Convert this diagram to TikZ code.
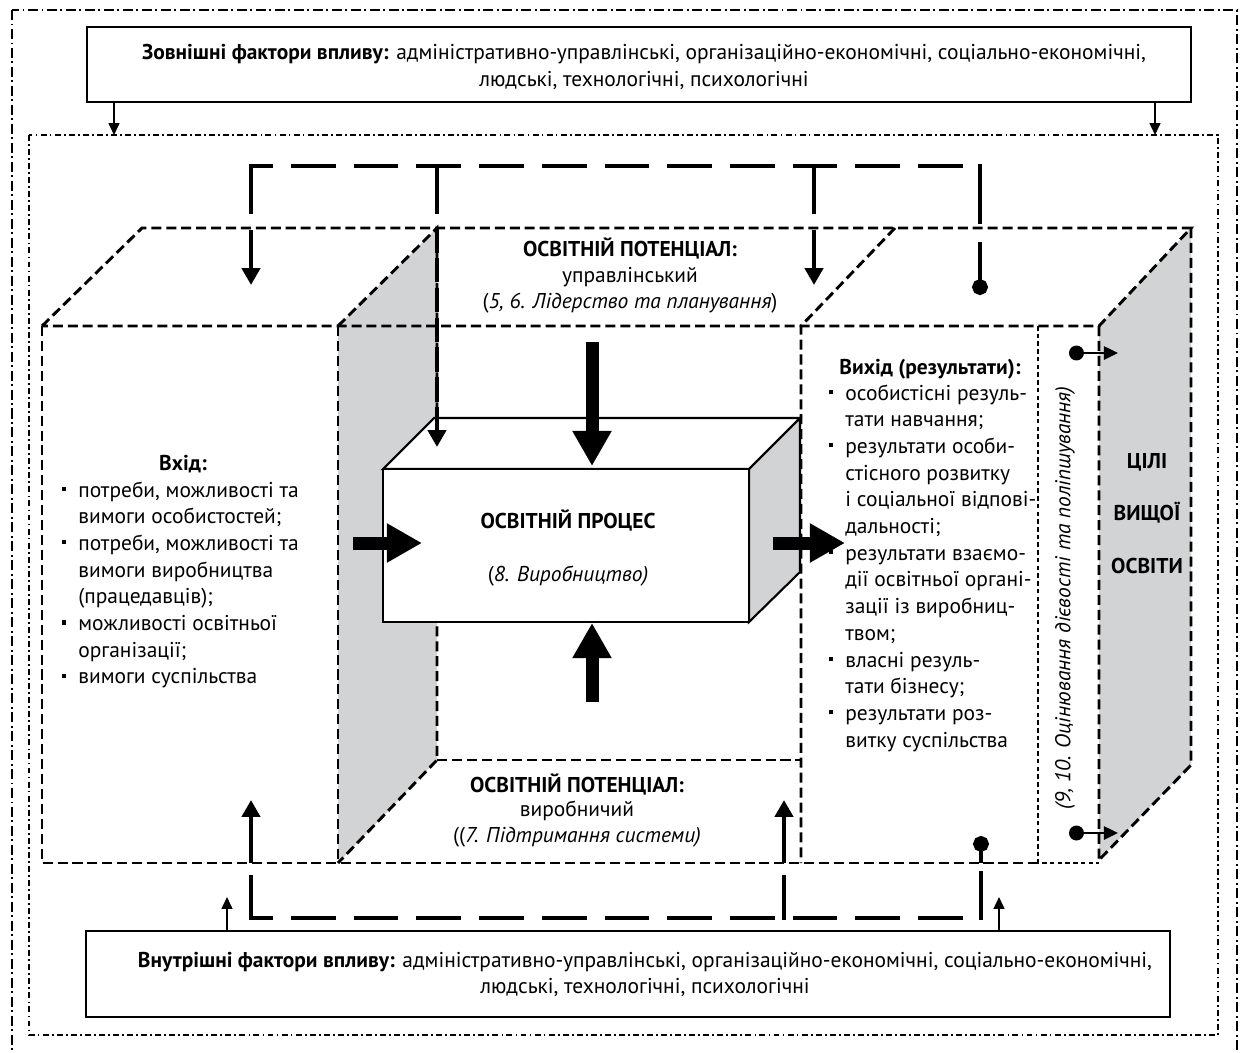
\documentclass[tikz,border=0pt]{standalone}
\usepackage{fontspec}
\setmainfont{PT Sans}
\usetikzlibrary{arrows.meta}
\definecolor{sidegray}{RGB}{209,211,212}
\newcommand{\sqbul}{\rule[3.4pt]{2.3pt}{2.3pt}\hspace{7pt}}
\tikzset{
  outerframe/.style={line width=1.4pt, dash pattern=on 5.7pt off 2pt on 1.1pt off 2pt},
  innerframe/.style={line width=1.2pt, dash pattern=on 3.4pt off 1.8pt on 1pt off 1.8pt},
  cubeline/.style={line width=1.65pt, dash pattern=on 5.7pt off 2.8pt},
  dotline/.style={line width=1.4pt, dash pattern=on 2.6pt off 1.8pt},
  fbdash/.style={line width=2.8pt, dash pattern=on 25.5pt off 10.2pt, dash phase=13pt},
  fbsolid/.style={line width=2.8pt, line cap=rect},
  fbarrow/.style={line width=2.8pt, -{Triangle[length=9.6pt,width=10.2pt]}},
  fbdot/.style={line width=2.8pt, -{Circle[length=9pt]}},
  bigarrow/.style={line width=7.4pt, -{Triangle[length=20pt,width=21pt]}},
  thinarrow/.style={line width=1pt, -{Triangle[length=6.8pt,width=6.2pt]}},
  dotarrow/.style={line width=1.2pt, {Circle[length=8.5pt]}-{Triangle[length=8pt,width=7.5pt]}},
  factbox/.style={draw, line width=1.2pt, inner sep=0pt},
  lbl/.style={inner sep=0pt, anchor=base},
  listline/.style={inner sep=0pt, anchor=base west}
}

\begin{document}
\begin{tikzpicture}[x=0.02cm, y=-0.02cm, font=\fontsize{12.2}{14.8}\selectfont]
\useasboundingbox (0,0) rectangle (1240,1052);

\draw[outerframe] (12,10) rectangle (1237,1075);
\draw[innerframe] (29,135) rectangle (1218,1035);

\node (extbox) [factbox, minimum width=22.08cm, minimum height=1.5cm] at (639,64.5) {};
\node (ext1) [lbl] at (644,59) {\textbf{Зовнішні фактори впливу:} адміністративно-управлінські, організаційно-економічні, соціально-економічні,};
\node (ext2) [lbl] at (644,86) {людські, технологічні, психологічні};
\node (intbox) [factbox, minimum width=21.68cm, minimum height=1.72cm] at (628,974) {};
\node (int1) [lbl] at (645,967) {\textbf{Внутрішні фактори впливу:} адміністративно-управлінські, організаційно-економічні, соціально-економічні,};
\node (int2) [lbl] at (645,993) {людські, технологічні, психологічні};

\coordinate (extL) at (114,135);
\coordinate (extR) at (1155,135);
\coordinate (intL) at (227,897);
\coordinate (intR) at (999,897);
\draw[thinarrow] (extL |- extbox.south) -- (extL);
\draw[thinarrow] (extR |- extbox.south) -- (extR);
\draw[thinarrow] (intL |- intbox.north) -- (intL);
\draw[thinarrow] (intR |- intbox.north) -- (intR);

\fill[sidegray] (338,326) -- (437,228) -- (437,760) -- (338,863) -- cycle;
\fill[sidegray] (1099,326) -- (1191,228) -- (1191,765) -- (1099,860) -- cycle;
\draw[cubeline] (42,326) -- (142,228) -- (1191,228) -- (1099,326) -- cycle;
\draw[cubeline] (42,326) -- (42,863) -- (1038,863);
\draw[cubeline] (338,326) -- (338,863);
\draw[cubeline] (338,326) -- (437,228) -- (437,760) -- (338,863);
\draw[cubeline] (437,760) -- (801,760);
\draw[cubeline] (895,228) -- (801,326) -- (801,863);
\draw[cubeline] (1099,326) -- (1099,860) (1191,228) -- (1191,765) -- (1099,860);
\draw[dotline] (1038,326) -- (1038,863) -- (1099,863);

\filldraw[fill=white, line width=1.2pt] (383,469) -- (434,418) -- (800,418) -- (749,469) -- cycle;
\filldraw[fill=sidegray, line width=1.2pt] (749,469) -- (800,418) -- (800,572) -- (749,622) -- cycle;
\node (proc) [draw, fill=white, line width=1.2pt, minimum width=7.32cm, minimum height=3.06cm] at (566,545.5) {};
\node (proctitle) [lbl] at (568,528) {\textbf{ОСВІТНІЙ ПРОЦЕС}};
\node (procsub) [lbl] at (568,581) {(\textit{8. Виробництво)}};

\coordinate (procT) at (592,342);
\coordinate (procTend) at (592,466);
\coordinate (procB) at (592,702);
\coordinate (procBend) at (592,623);
\coordinate (procL) at (353,543);
\coordinate (procLend) at (422,543);
\coordinate (procR) at (773,543);
\coordinate (procRend) at (845,543);
\draw[bigarrow] (procT) -- (procTend);
\draw[bigarrow] (procB) -- (procBend);
\draw[bigarrow] (procL) -- (procLend);
\draw[bigarrow] (procR) -- (procRend);

\draw[fbdash] (251,166) -- (980,166);
\foreach \x/\y in {251/212, 437/212, 814/212, 980/222}
  \draw[fbsolid] (\x,166) -- (\x,\y);
\draw[fbarrow] (251,230) -- (251,285);
\draw[fbarrow] (814,230) -- (814,285);
\draw[fbdot] (980,242) -- (980,295);
\draw[fbarrow, dash pattern=on 14pt off 3pt] (437,228) -- (437,447);

\draw[fbdash] (251,918) -- (981,918);
\foreach \x/\y in {251/877, 784/877, 981/873}
  \draw[fbsolid] (\x,918) -- (\x,\y);
\draw[fbarrow] (251,863) -- (251,800);
\draw[fbarrow] (784,863) -- (784,800);
\draw[fbdot] (981,863) -- (981,836);

\draw[dotarrow] (1069,353) -- (1118,353);
\draw[dotarrow] (1069,833) -- (1118,833);

\node (pot1) [lbl] at (630,256) {\textbf{ОСВІТНІЙ ПОТЕНЦІАЛ:}};
\node (pot1a) [lbl] at (630,282) {управлінський};
\node (pot1b) [lbl] at (630,308) {(\textit{5, 6. Лідерство та планування})};
\node (pot2) [lbl] at (577,792) {\textbf{ОСВІТНІЙ ПОТЕНЦІАЛ:}};
\node (pot2a) [lbl] at (577,816) {виробничий};
\node (pot2b) [lbl] at (577,842) {((\textit{7. Підтримання системи)}};

\node (inhead) [lbl] at (183,470) {\textbf{Вхід:}};
\foreach \bl/\txt [count=\i from 0] in {1/{потреби, можливості та}, 0/{вимоги особистостей;},
    1/{потреби, можливості та}, 0/{вимоги виробництва}, 0/{(працедавців);},
    1/{можливості освітньої}, 0/{організації;}, 1/{вимоги суспільства}}
  \node (in\i) [listline] at (78,{497+26.7*\i}) {\ifnum\bl=1 \llap{\sqbul}\fi\txt};

\node (outhead) [lbl] at (930,374) {\textbf{Вихід (результати):}};
\foreach \bl/\txt [count=\i from 0] in {1/{особистісні резуль-}, 0/{тати навчання;},
    1/{результати особи-}, 0/{стісного розвитку}, 0/{і соціальної відпові-}, 0/{дальності;},
    1/{результати взаємо-}, 0/{дії освітньої органі-}, 0/{зації із виробниц-}, 0/{твом;},
    1/{власні резуль-}, 0/{тати бізнесу;}, 1/{результати роз-}, 0/{витку суспільства}}
  \node (out\i) [listline] at (845,{400+26.7*\i}) {\ifnum\bl=1 \llap{\sqbul}\fi\txt};

\node (evaltext) [rotate=90, inner sep=0pt] at (1065,598) {\textit{(9, 10. Оцінювання дієвості та поліпшування)}};

\node (goal1) [lbl] at (1147,468) {\textbf{ЦІЛІ}};
\node (goal2) [lbl] at (1147,520) {\textbf{ВИЩОЇ}};
\node (goal3) [lbl] at (1147,573) {\textbf{ОСВІТИ}};
\end{tikzpicture}
\end{document}
